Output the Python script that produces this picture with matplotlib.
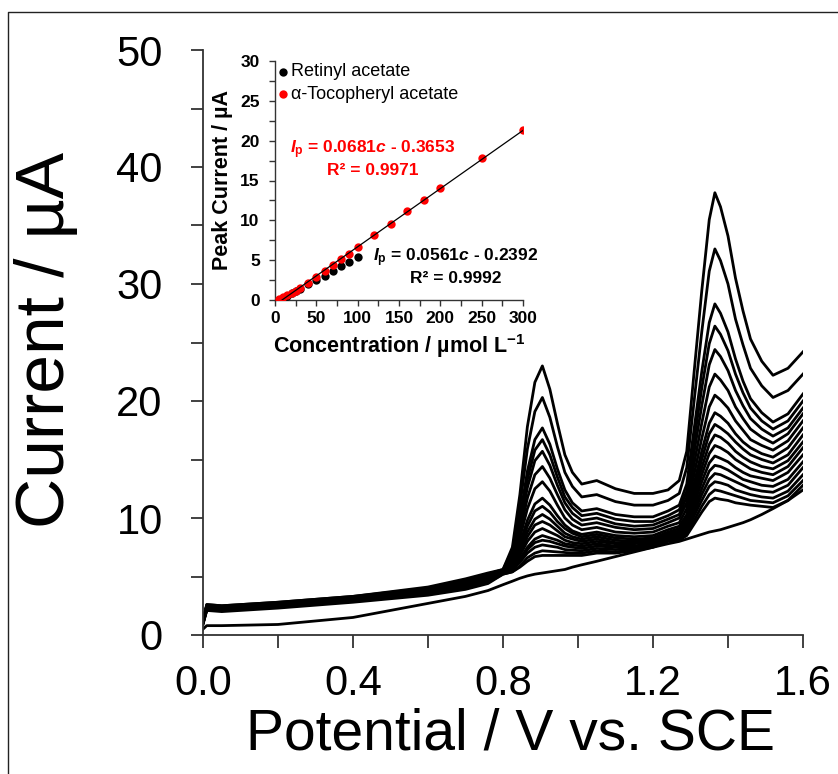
import numpy as np
import matplotlib.pyplot as plt
from matplotlib.ticker import MultipleLocator

plt.rcParams['font.family'] = 'Liberation Sans'
plt.rcParams['mathtext.fontset'] = 'custom'
plt.rcParams['mathtext.rm'] = 'Liberation Sans:bold'
plt.rcParams['mathtext.it'] = 'Liberation Sans:italic:bold'
plt.rcParams['mathtext.bf'] = 'Liberation Sans:bold'

# DPV curves (potential in V, current in uA)
potential = [0.0, 0.01, 0.05, 0.2, 0.4, 0.6, 0.7, 0.76, 0.8,
             0.825, 0.845, 0.865, 0.885, 0.905, 0.925, 0.945, 0.965, 0.985,
             1.01, 1.05, 1.1, 1.15, 1.2, 1.24,
             1.27, 1.29, 1.31, 1.33, 1.35, 1.365, 1.38, 1.4, 1.42, 1.44, 1.46,
             1.49, 1.52, 1.56, 1.6]

cur_300 = [1.2, 2.6, 2.5, 2.8, 3.3, 4.1, 4.8, 5.3, 5.6,
           7.5, 12.0, 17.8, 21.6, 23.0, 21.0, 18.1, 15.4, 13.9,
           12.9, 13.2, 12.5, 12.1, 12.1, 12.4,
           13.2, 15.7, 22.6, 29.4, 35.5, 37.8, 36.6, 34.1, 30.5, 27.7, 25.3,
           23.4, 22.2, 22.8, 24.2]
cur_250 = [1.2, 2.6, 2.5, 2.8, 3.3, 4.0, 4.7, 5.2, 5.6,
           7.2, 11.0, 15.9, 19.1, 20.3, 18.6, 16.1, 13.9, 12.7,
           11.8, 12.0, 11.4, 11.1, 11.1, 11.5,
           12.1, 14.3, 20.1, 25.9, 31.1, 33.0, 32.0, 30.0, 27.0, 24.8, 22.8,
           21.3, 20.3, 20.9, 22.3]
cur_200 = [1.2, 2.5, 2.4, 2.7, 3.2, 4.0, 4.6, 5.1, 5.5,
           6.8, 10.0, 14.0, 16.7, 17.7, 16.3, 14.2, 12.4, 11.3,
           10.6, 10.8, 10.3, 10.1, 10.1, 10.6,
           11.1, 12.9, 17.7, 22.5, 26.7, 28.3, 27.5, 25.9, 23.6, 21.7, 20.2,
           19.0, 18.2, 18.9, 20.6]
cur_180 = [1.2, 2.5, 2.4, 2.7, 3.2, 3.9, 4.6, 5.1, 5.5,
           6.7, 9.6, 13.3, 15.8, 16.7, 15.4, 13.5, 11.8, 10.9,
           10.2, 10.4, 9.9, 9.7, 9.7, 10.2,
           10.7, 12.3, 16.7, 21.1, 24.9, 26.4, 25.7, 24.3, 22.3, 20.7, 19.4,
           18.3, 17.6, 18.3, 20.0]
cur_160 = [1.2, 2.5, 2.4, 2.7, 3.2, 3.9, 4.5, 5.0, 5.5,
           6.6, 9.3, 12.6, 14.9, 15.7, 14.5, 12.8, 11.3, 10.4,
           9.8, 10.0, 9.5, 9.3, 9.4, 9.9,
           10.3, 11.8, 15.7, 19.6, 23.1, 24.4, 23.8, 22.6, 20.9, 19.6, 18.5,
           17.6, 17.0, 17.7, 19.4]
cur_140 = [1.2, 2.4, 2.3, 2.6, 3.1, 3.8, 4.5, 5.0, 5.5,
           6.5, 8.8, 11.7, 13.7, 14.4, 13.4, 12.0, 10.7, 9.9,
           9.4, 9.6, 9.2, 9.0, 9.1, 9.6,
           10.0, 11.3, 14.7, 18.1, 21.2, 22.3, 21.8, 20.9, 19.5, 18.5, 17.6,
           16.9, 16.4, 17.2, 18.9]
cur_120 = [1.2, 2.4, 2.3, 2.6, 3.1, 3.8, 4.4, 4.9, 5.5,
           6.3, 8.3, 10.8, 12.5, 13.1, 12.3, 11.1, 10.0, 9.4,
           9.0, 9.2, 8.8, 8.7, 8.8, 9.3,
           9.6, 10.8, 13.8, 16.8, 19.5, 20.5, 20.1, 19.4, 18.3, 17.5, 16.7,
           16.2, 15.8, 16.6, 18.3]
cur_100 = [1.2, 2.4, 2.3, 2.6, 3.1, 3.7, 4.4, 4.9, 5.5,
           6.2, 7.8, 9.8, 11.2, 11.7, 11.1, 10.2, 9.4, 8.9,
           8.6, 8.8, 8.5, 8.4, 8.5, 9.0,
           9.3, 10.3, 13.0, 15.7, 18.1, 19.0, 18.7, 18.1, 17.2, 16.5, 16.0,
           15.5, 15.2, 16.0, 17.7]
cur_90 = [1.1, 2.3, 2.3, 2.6, 3.0, 3.7, 4.3, 4.8, 5.4,
          6.0, 7.5, 9.3, 10.6, 11.0, 10.5, 9.7, 9.1, 8.7,
          8.4, 8.6, 8.3, 8.2, 8.3, 8.8,
          9.1, 10.0, 12.5, 15.0, 17.2, 18.0, 17.7, 17.2, 16.5, 15.9, 15.4,
          15.0, 14.7, 15.4, 17.1]
cur_80 = [1.1, 2.3, 2.2, 2.5, 3.0, 3.7, 4.3, 4.8, 5.4,
          5.9, 7.2, 8.8, 9.9, 10.3, 9.9, 9.3, 8.7, 8.4,
          8.2, 8.4, 8.1, 8.0, 8.2, 8.7,
          8.9, 9.8, 12.1, 14.3, 16.3, 17.1, 16.9, 16.4, 15.7, 15.2, 14.8,
          14.4, 14.2, 14.9, 16.5]
cur_70 = [1.1, 2.3, 2.2, 2.5, 3.0, 3.6, 4.2, 4.7, 5.4,
          5.9, 7.0, 8.4, 9.4, 9.7, 9.4, 8.9, 8.4, 8.2,
          8.0, 8.2, 7.9, 7.9, 8.1, 8.6,
          8.8, 9.6, 11.6, 13.7, 15.5, 16.2, 16.0, 15.6, 15.0, 14.6, 14.2,
          13.9, 13.7, 14.4, 16.0]
cur_60 = [1.1, 2.3, 2.2, 2.5, 3.0, 3.6, 4.2, 4.7, 5.4,
          5.8, 6.8, 8.0, 8.8, 9.1, 8.8, 8.5, 8.1, 7.9,
          7.8, 8.0, 7.8, 7.8, 8.0, 8.5,
          8.7, 9.4, 11.2, 13.1, 14.7, 15.3, 15.1, 14.8, 14.3, 13.9, 13.6,
          13.4, 13.2, 13.9, 15.4]
cur_50 = [1.0, 2.2, 2.2, 2.5, 2.9, 3.6, 4.1, 4.6, 5.3,
          5.7, 6.5, 7.5, 8.2, 8.5, 8.3, 8.1, 7.8, 7.7,
          7.6, 7.8, 7.6, 7.6, 7.9, 8.4,
          8.6, 9.2, 10.8, 12.5, 14.0, 14.5, 14.4, 14.1, 13.7, 13.3, 13.1,
          12.8, 12.7, 13.3, 14.8]
cur_40 = [1.0, 2.2, 2.1, 2.4, 2.9, 3.5, 4.1, 4.6, 5.3,
          5.6, 6.3, 7.3, 7.9, 8.1, 8.0, 7.8, 7.6, 7.5,
          7.4, 7.6, 7.5, 7.5, 7.8, 8.3,
          8.5, 9.0, 10.5, 12.0, 13.3, 13.8, 13.7, 13.4, 13.1, 12.8, 12.5,
          12.3, 12.2, 12.8, 14.3]
cur_30 = [1.0, 2.2, 2.1, 2.4, 2.9, 3.5, 4.0, 4.5, 5.3,
          5.6, 6.2, 7.0, 7.5, 7.7, 7.6, 7.5, 7.3, 7.25,
          7.2, 7.4, 7.3, 7.4, 7.7, 8.2,
          8.3, 8.8, 10.2, 11.5, 12.7, 13.1, 13.0, 12.8, 12.4, 12.2, 12.0,
          11.8, 11.7, 12.3, 13.7]
cur_20 = [1.0, 2.1, 2.1, 2.4, 2.9, 3.5, 4.0, 4.5, 5.2,
          5.4, 5.9, 6.6, 7.0, 7.2, 7.15, 7.1, 7.05, 7.0,
          7.0, 7.2, 7.1, 7.3, 7.6, 8.1,
          8.2, 8.7, 9.8, 11.0, 12.0, 12.4, 12.3, 12.1, 11.9, 11.7, 11.5,
          11.4, 11.3, 11.9, 13.2]
cur_10 = [0.9, 2.1, 2.0, 2.3, 2.8, 3.4, 3.9, 4.4, 5.2,
          5.4, 5.8, 6.3, 6.7, 6.8, 6.8, 6.8, 6.8, 6.8,
          6.8, 7.0, 7.0, 7.2, 7.5, 8.0,
          8.1, 8.5, 9.5, 10.5, 11.4, 11.7, 11.6, 11.5, 11.3, 11.2, 11.1,
          11.0, 10.9, 11.5, 12.8]
cur_blank = [0.5, 0.8, 0.8, 0.9, 1.5, 2.7, 3.3, 3.8, 4.3,
             4.6, 4.85, 5.05, 5.2, 5.3, 5.4, 5.5, 5.6, 5.8,
             6.0, 6.3, 6.7, 7.1, 7.5, 7.8,
             8.0, 8.2, 8.4, 8.6, 8.8, 8.9, 9.0, 9.2, 9.4, 9.6, 9.85,
             10.3, 10.8, 11.5, 12.4]

curves = [cur_300, cur_250, cur_200, cur_180, cur_160, cur_140, cur_120,
          cur_100, cur_90, cur_80, cur_70, cur_60, cur_50, cur_40, cur_30,
          cur_20, cur_10, cur_blank]

x_ticks = [0.0, 0.4, 0.8, 1.2, 1.6]
x_ticklabels = ['0.0', '0.4', '0.8', '1.2', '1.6']
y_ticks = [0, 10, 20, 30, 40, 50]

# inset calibration data
toc_conc = [5, 10, 15, 20, 25, 30, 40, 50, 60, 70, 80, 90, 100,
            120, 140, 160, 180, 200, 250, 300]
toc_peak = [0.15, 0.35, 0.6, 0.9, 1.15, 1.45, 2.1, 2.9, 3.6, 4.4, 5.1, 5.8, 6.6,
            8.2, 9.5, 11.2, 12.5, 14.0, 17.8, 21.3]
ret_conc = [5, 10, 15, 20, 25, 30, 40, 50, 60, 70, 80, 90, 100]
ret_peak = [0.05, 0.3, 0.55, 0.85, 1.1, 1.4, 2.0, 2.55, 3.05, 3.6, 4.25, 4.8, 5.4]
inset_xticks = [0, 50, 100, 150, 200, 250, 300]
inset_yticks = [0, 5, 10, 15, 20, 25, 30]

W, H = 838, 774
fig = plt.figure(figsize=(W / 100, H / 100), dpi=100)

# outer frame line (left and top only visible)
fig.add_artist(plt.Line2D([8 / W, 8 / W, 1.01], [-0.01, 1 - 12 / H, 1 - 12 / H],
                          transform=fig.transFigure, color='#222222', lw=1.0))

ax = fig.add_axes([203 / W, (H - 635) / H, 600 / W, 585 / H])
for y in curves:
    ax.plot(potential, y, color='black', lw=2.0, solid_joinstyle='round')

ax.set_xlim(0, 1.6)
ax.set_ylim(0, 50)
for s in ['top', 'right']:
    ax.spines[s].set_visible(False)
for s in ['left', 'bottom']:
    ax.spines[s].set_color('#333333')
    ax.spines[s].set_linewidth(1.3)
ax.set_xticks(x_ticks)
ax.set_xticklabels(x_ticklabels)
ax.set_yticks(y_ticks)
ax.xaxis.set_minor_locator(MultipleLocator(0.2))
ax.yaxis.set_minor_locator(MultipleLocator(5))
ax.tick_params(which='both', direction='out', length=9, width=1.3, color='#333333')
ax.tick_params(axis='x', which='major', labelsize=30, pad=12)
ax.tick_params(axis='y', which='major', labelsize=30, pad=20)

fig.text(510 / W, 24 / H, 'Potential / V vs. SCE', fontsize=41,
         ha='center', va='baseline')
fig.text(46 / W, 1 - 340 / H, 'Current / µA', fontsize=50, rotation=90,
         ha='center', va='center')

# inset
ins = fig.add_axes([275 / W, (H - 300) / H, 248 / W, 239 / H])
ins.set_facecolor('none')
ins.scatter(ret_conc, ret_peak, s=36, color='black', label='Retinyl acetate',
            zorder=3, linewidths=0)
ins.scatter(toc_conc, toc_peak, s=36, color='red', label='α-Tocopheryl acetate',
            zorder=4, linewidths=0)
slope, icpt = np.polyfit(toc_conc, toc_peak, 1)
fit_x = np.array([-icpt / slope, max(toc_conc)])
ins.plot(fit_x, slope * fit_x + icpt, color='black', lw=0.9, zorder=5)

ins.set_xlim(0, 300)
ins.set_ylim(0, 30)
for s in ['top', 'right']:
    ins.spines[s].set_visible(False)
for s in ['left', 'bottom']:
    ins.spines[s].set_color('#333333')
    ins.spines[s].set_linewidth(1.0)
ins.set_xticks(inset_xticks)
ins.set_xticklabels([str(v) for v in inset_xticks], fontweight='bold')
ins.set_yticks(inset_yticks)
ins.set_yticklabels([str(v) for v in inset_yticks], fontweight='bold')
ins.xaxis.set_minor_locator(MultipleLocator(25))
ins.yaxis.set_minor_locator(MultipleLocator(2.5))
ins.tick_params(which='both', direction='out', length=4, width=1.0, color='#333333')
ins.tick_params(axis='both', which='major', labelsize=12.5)
ins.tick_params(axis='x', which='major', pad=4)
ins.tick_params(axis='y', which='major', pad=7)
ins.set_xlabel(r'Concentration / µmol L$^{\mathbf{-1}}$', fontsize=15.5,
               fontweight='bold', labelpad=4)
ins.set_ylabel('Peak Current / µA', fontsize=15.5, fontweight='bold', labelpad=5)

ins.legend(loc='upper left', bbox_to_anchor=(0.015, 0.99), frameon=False,
           fontsize=13, handlelength=0.5, handletextpad=0.2, borderpad=0,
           borderaxespad=0, labelspacing=0.3, scatterpoints=1)

ins.text(0.395, 0.594, '$I_\\mathrm{p}$ = 0.0681$c$ - 0.3653\nR² = 0.9971',
         transform=ins.transAxes, color='red', fontsize=12.5, fontweight='bold',
         ha='center', va='center', multialignment='center')
ins.text(0.73, 0.142, '$I_\\mathrm{p}$ = 0.0561$c$ - 0.2392\nR² = 0.9992',
         transform=ins.transAxes, color='black', fontsize=12.5, fontweight='bold',
         ha='center', va='center', multialignment='center', clip_on=False)

fig.savefig('out.png', dpi=100)
